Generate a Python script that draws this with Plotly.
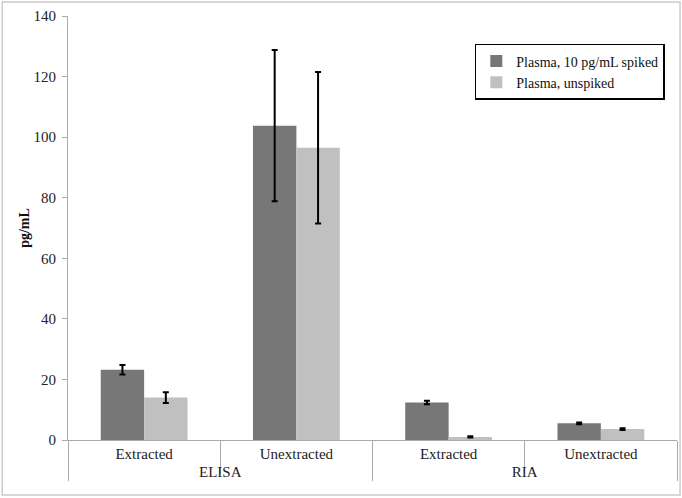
import plotly.graph_objects as go

assays = ["ELISA", "ELISA", "RIA", "RIA"]
methods = ["Extracted", "Unextracted", "Extracted", "Unextracted"]

spiked = [23.2, 103.8, 12.4, 5.5]
spiked_err = [1.6, 25.0, 0.6, 0.3]
unspiked = [14.0, 96.5, 1.0, 3.6]
unspiked_err = [1.8, 25.0, 0.2, 0.3]

font_family = "Liberation Serif, Times New Roman, serif"

fig = go.Figure()
fig.add_trace(go.Bar(
    x=[assays, methods], y=spiked, name="Plasma, 10 pg/mL spiked",
    marker=dict(color="#777777", line=dict(width=0)),
    error_y=dict(type="data", array=spiked_err, color="black", thickness=2, width=3),
))
fig.add_trace(go.Bar(
    x=[assays, methods], y=unspiked, name="Plasma, unspiked",
    marker=dict(color="#c0c0c0", line=dict(width=0)),
    error_y=dict(type="data", array=unspiked_err, color="black", thickness=2, width=3),
))

fig.update_layout(
    width=682, height=498,
    margin=dict(l=68, r=5, t=16, b=58),
    paper_bgcolor="white", plot_bgcolor="white",
    barmode="group", bargap=0.43, bargroupgap=0,
    font=dict(family=font_family, size=14, color="#222222"),
    showlegend=True,
    legend=dict(
        x=0.98, y=0.934, xanchor="right", yanchor="top",
        bgcolor="white", bordercolor="black", borderwidth=1.5,
        font=dict(size=14, color="#111111"),
        itemwidth=30, tracegroupgap=0,
    ),
    xaxis=dict(
        type="multicategory", automargin=False,
        showline=True, linecolor="#aaaaaa", linewidth=1,
        ticks="outside", ticklen=33, tickcolor="#aaaaaa",
        showdividers=True, dividercolor="#aaaaaa", dividerwidth=1,
        tickfont=dict(size=15, color="#222222"),
        showgrid=False,
    ),
    yaxis=dict(
        range=[0, 140], dtick=20, automargin=False,
        showline=True, linecolor="#aaaaaa", linewidth=1,
        ticks="outside", ticklen=5, tickcolor="#aaaaaa",
        showgrid=False, zeroline=False,
        tickfont=dict(size=15, color="#222222"),
        ticklabelstandoff=3,
        title=dict(text="<b>pg/mL</b>", font=dict(size=14, color="#111111"), standoff=0),
    ),
    shapes=[dict(
        type="rect", xref="paper", yref="paper",
        x0=-0.108, x1=1.005, y0=-0.13, y1=1.033,
        line=dict(color="#cccccc", width=1.5),
    )],
)

# page body has a default margin; remove it so the figure sits at the top-left corner
fig.write_html("out.html", config={"displayModeBar": False},
               post_script="document.body.style.margin = '0';")
